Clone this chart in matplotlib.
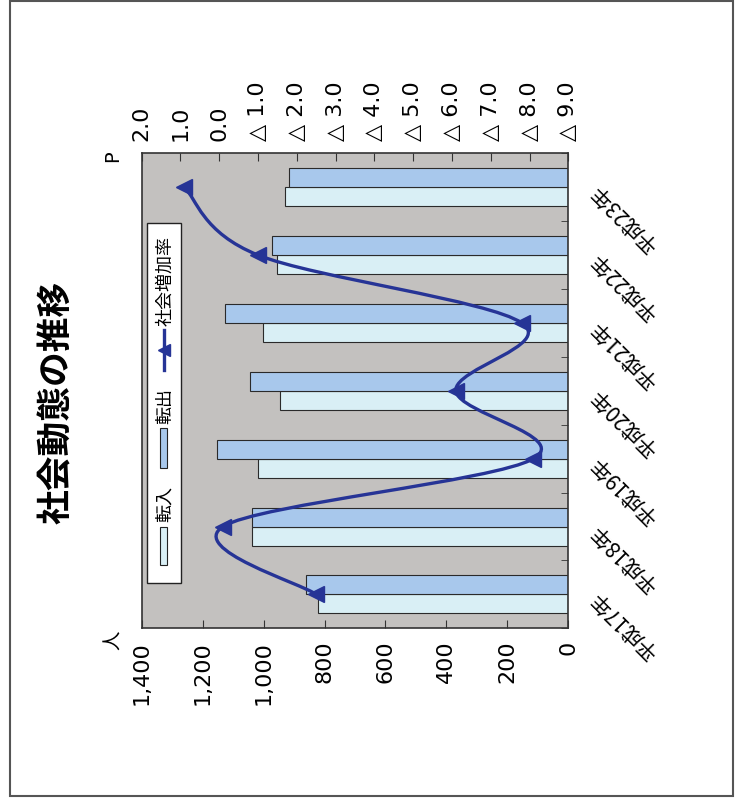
import matplotlib
matplotlib.use('Agg')
import matplotlib.pyplot as plt
from matplotlib.path import Path
from matplotlib.patches import PathPatch, Rectangle
from matplotlib.lines import Line2D
import numpy as np

plt.rcParams['font.family'] = ['Noto Sans CJK JP', 'DejaVu Sans']

years = ['平成17年', '平成18年', '平成19年', '平成20年', '平成21年', '平成22年', '平成23年']
tennyu = [821, 1037, 1018, 946, 1001, 957, 930]       # 転入
tenshutsu = [862, 1037, 1152, 1045, 1127, 974, 916]   # 転出
rate = [-2.5, -0.1, -8.1, -6.1, -7.8, -1.0, 0.9]      # 社会増加率
count_ticks = [0, 200, 400, 600, 800, 1000, 1200, 1400]
rate_ticks = [2, 1, 0, -1, -2, -3, -4, -5, -6, -7, -8, -9]

c_in = '#d9eff5'
c_out = '#a8c8ec'
c_line = '#263496'
c_bg = '#c3c1bf'
num_font = ['DejaVu Sans', 'Noto Sans CJK JP']

W, H = 741, 800
fig = plt.figure(figsize=(W / 100, H / 100), dpi=100)


def fx(px):
    return px / W


def fy(py):
    return 1 - py / H


# chart is drawn turned 90 degrees (counterclockwise)
ax = fig.add_axes([fx(141.7), fy(628.3), (568.3 - 141.7) / W, (628.3 - 153.3) / H])
ax.set_facecolor(c_bg)
for s in ax.spines.values():
    s.set_color('#333333')
    s.set_linewidth(1.2)

y = np.arange(len(years))
ax.barh(y - 0.14, tennyu, 0.28, color=c_in, edgecolor='#2a2a2a', lw=0.8, zorder=2)
ax.barh(y + 0.14, tenshutsu, 0.28, color=c_out, edgecolor='#2a2a2a', lw=0.8, zorder=2)
ax.set_xlim(1400, 0)
ax.set_ylim(-0.5, 6.5)

ax.set_xticks(count_ticks)
ax.set_xticklabels([f'{v:,}' for v in count_ticks], rotation=90, family=num_font, fontsize=16)
ax.tick_params(axis='x', direction='in', length=6, pad=9, color='#333333')

ax.yaxis.tick_right()
ax.set_yticks(y)
ax.set_yticklabels(years)
ax.set_yticks(np.arange(-0.5, 6.6, 1), minor=True)
ax.tick_params(axis='y', which='major', length=0, pad=18, labelsize=15)
ax.tick_params(axis='y', which='minor', direction='in', length=5, right=True, left=False, color='#333333')
for lab in ax.get_yticklabels():
    lab.set_rotation(135)
    lab.set_ha('right')
    lab.set_va('center')
    lab.set_rotation_mode('anchor')

# rate axis on top
ax2 = ax.twiny()
ax2.set_xlim(2, -9)
ax2.set_ylim(-0.5, 6.5)
ax2.set_xticks(rate_ticks)
ax2.set_xticklabels([f'{v:.1f}' if v >= 0 else f'△ {-v:.1f}' for v in rate_ticks],
                    rotation=90, family=num_font, fontsize=16)
ax2.tick_params(axis='x', direction='in', length=6, pad=9, color='#333333')
for s in ax2.spines.values():
    s.set_visible(False)

# smoothed line (Bezier through the points)
P = np.column_stack([rate, y]).astype(float)
n = len(P)
verts = [P[0]]
codes = [Path.MOVETO]
for i in range(n - 1):
    p_prev = P[i - 1] if i > 0 else P[i]
    p_next2 = P[i + 2] if i + 2 < n else P[i + 1]
    verts += [P[i] + (P[i + 1] - p_prev) / 6, P[i + 1] - (p_next2 - P[i]) / 6, P[i + 1]]
    codes += [Path.CURVE4] * 3
ax2.add_patch(PathPatch(Path(verts, codes), fill=False, edgecolor=c_line, lw=2.4, zorder=3))
ax2.plot(rate, y, ls='none', marker='<', ms=11, color=c_line, zorder=4)

# legend (turned)
fig.add_artist(Rectangle((fx(147.3), fy(583.3)), (180.7 - 147.3) / W, (583.3 - 223.3) / H,
                         transform=fig.transFigure, facecolor='white', edgecolor='#222222', lw=1))
fig.add_artist(Rectangle((fx(160), fy(565)), 7 / W, 38 / H, transform=fig.transFigure,
                         facecolor=c_in, edgecolor='#222222', lw=0.8))
fig.add_artist(Rectangle((fx(160), fy(468)), 7 / W, 40 / H, transform=fig.transFigure,
                         facecolor=c_out, edgecolor='#222222', lw=0.8))
fig.add_artist(Line2D([fx(164), fx(164)], [fy(370), fy(330)], transform=fig.transFigure,
                      color=c_line, lw=2.4))
fig.add_artist(Line2D([fx(164)], [fy(350)], transform=fig.transFigure, color=c_line,
                      marker='<', ms=8))
fig.text(fx(165), fy(504), '転入', rotation=90, fontsize=13, ha='center', va='center')
fig.text(fx(165), fy(406), '転出', rotation=90, fontsize=13, ha='center', va='center')
fig.text(fx(165), fy(281), '社会増加率', rotation=90, fontsize=13, ha='center', va='center')

fig.text(fx(56), fy(402), '社会動態の推移', rotation=90, fontsize=25, weight='bold',
         ha='center', va='center')
fig.text(fx(113), fy(640), '人', rotation=90, fontsize=14, ha='center', va='center')
fig.text(fx(113), fy(156), 'P', rotation=90, fontsize=14, ha='center', va='center', family=num_font)

fig.add_artist(Rectangle((fx(10), fy(796)), (733 - 10) / W, (796 - 1) / H, transform=fig.transFigure,
                         fill=False, edgecolor='#555555', lw=1.5))

fig.savefig('out.png', dpi=100)
